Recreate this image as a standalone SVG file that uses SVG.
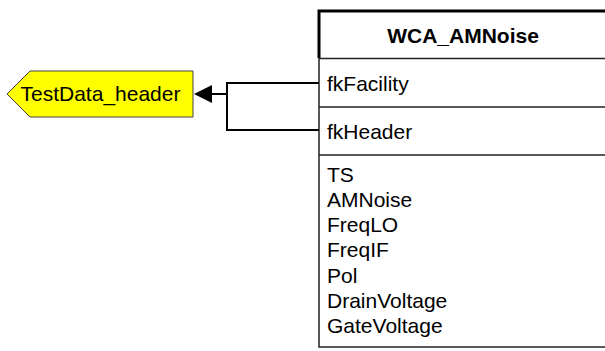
<svg xmlns="http://www.w3.org/2000/svg" width="605" height="351" viewBox="0 0 605 351">
<style>
text{font-family:"Liberation Sans",Arial,sans-serif;font-size:21px;fill:#000}
.title{font-weight:bold;text-anchor:middle}
.line{stroke:#222;stroke-width:1.5;fill:none}
.conn{stroke:#000;stroke-width:2;fill:none}
</style>
<rect width="605" height="351" fill="#fff"/>
<g id="TestData_header">
<polygon points="30,71 193,71 193,117 30,117 7,94" fill="#ffff00" stroke="#444" stroke-width="1"/>
<text x="100.5" y="101" text-anchor="middle">TestData_header</text>
</g>
<g id="WCA_AMNoise">
<rect x="319" y="11" width="300" height="336" fill="#fff" class="line"/>
<path d="M319,58 V11 H610" stroke="#000" stroke-width="3" fill="none"/>
<line x1="319" y1="58.5" x2="610" y2="58.5" class="line"/>
<line x1="319" y1="107" x2="610" y2="107" class="line"/>
<line x1="319" y1="155" x2="610" y2="155" class="line"/>
<text x="463" y="42.5" class="title">WCA_AMNoise</text>
<text x="327" y="90.5">fkFacility</text>
<text x="327" y="138.5">fkHeader</text>
<text x="327" y="181.5">TS</text>
<text x="327" y="206.8">AMNoise</text>
<text x="327" y="232.1">FreqLO</text>
<text x="327" y="257.4">FreqIF</text>
<text x="327" y="282.7">Pol</text>
<text x="327" y="308">DrainVoltage</text>
<text x="327" y="333.3">GateVoltage</text>
</g>
<g id="connectors">
<path class="conn" d="M319,83 H227 V130 H319"/>
<path class="conn" d="M227,94 H210"/>
<polygon points="194,94 212,85 212,103" fill="#000"/>
</g>
</svg>
